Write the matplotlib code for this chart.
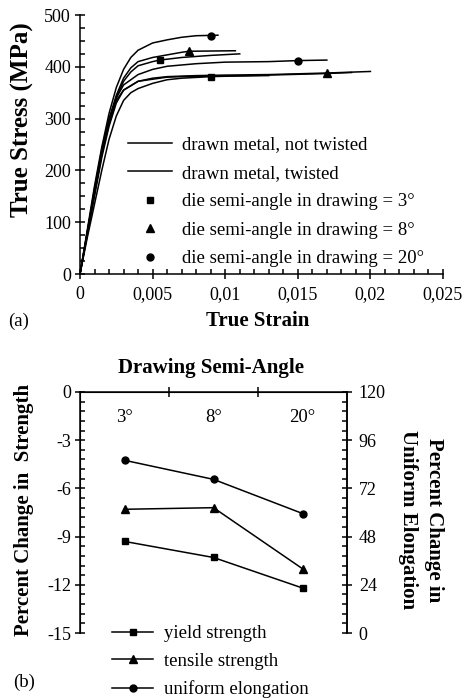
import numpy as np
import matplotlib
matplotlib.use('Agg')
import matplotlib.pyplot as plt
from matplotlib.ticker import MultipleLocator, FixedLocator, FuncFormatter
from matplotlib.lines import Line2D

plt.rcParams['font.family'] = ['Liberation Serif', 'DejaVu Serif']
plt.rcParams['axes.unicode_minus'] = False

# (a) true stress-strain curves
c1_strain = [0, 0.0005, 0.001, 0.0015, 0.002, 0.0025, 0.003, 0.0035, 0.004, 0.005, 0.006, 0.007, 0.008, 0.0095]
c1_stress = [0, 85, 170, 245, 310, 360, 395, 418, 432, 446, 452, 457, 460, 461]
c2_strain = [0, 0.0005, 0.001, 0.0015, 0.002, 0.0025, 0.003, 0.0035, 0.004, 0.005, 0.006, 0.007, 0.0075, 0.0107]
c2_stress = [0, 80, 165, 240, 300, 345, 378, 398, 410, 418, 423, 428, 430, 431]
c3_strain = [0, 0.0005, 0.001, 0.0015, 0.002, 0.0025, 0.003, 0.0035, 0.004, 0.005, 0.0055, 0.007, 0.009, 0.011]
c3_stress = [0, 80, 160, 235, 295, 340, 372, 390, 402, 410, 413, 418, 422, 425]
c4_strain = [0, 0.0005, 0.001, 0.0015, 0.002, 0.0025, 0.003, 0.004, 0.005, 0.006, 0.008, 0.01, 0.013, 0.015, 0.017]
c4_stress = [0, 80, 160, 235, 295, 340, 365, 385, 395, 401, 406, 409, 410, 412, 413]
c5_strain = [0, 0.0005, 0.001, 0.0015, 0.002, 0.0025, 0.003, 0.004, 0.005, 0.006, 0.007, 0.009, 0.013]
c5_stress = [0, 78, 155, 230, 290, 335, 355, 372, 376, 380, 381, 382, 383]
c6_strain = [0, 0.0005, 0.001, 0.0015, 0.002, 0.0025, 0.003, 0.0035, 0.004, 0.005, 0.006, 0.007, 0.009, 0.013, 0.017, 0.0187]
c6_stress = [0, 70, 135, 200, 260, 305, 335, 350, 358, 368, 375, 378, 381, 384, 387, 389]
c7_strain = [0, 0.0005, 0.001, 0.0015, 0.002, 0.0025, 0.003, 0.004, 0.005, 0.006, 0.008, 0.01, 0.013, 0.017, 0.02]
c7_stress = [0, 75, 150, 225, 285, 330, 355, 372, 378, 381, 383, 384, 385, 388, 391]

sq_strain = [0.0055, 0.009]
sq_stress = [413, 381]
tri_strain = [0.0075, 0.017]
tri_stress = [430, 388]
circ_strain = [0.009, 0.015]
circ_stress = [460, 412]

# (b) percent change vs drawing semi-angle
angles = ['3°', '8°', '20°']
yield_strength = [-9.3, -10.3, -12.2]
tensile_strength = [-7.3, -7.2, -11.0]
uniform_elongation = [86, 76.5, 59.5]

W, H = 463, 699
fig = plt.figure(figsize=(W / 100, H / 100), dpi=100)

def fx(px):
    return px / W

def fy(py):
    return 1 - py / H

lw_ax = 1.1
fs = 13
fs_leg = 13.5
fs_lab = 15

# ---------- (a) ----------
ax1 = fig.add_axes([fx(80), fy(274), fx(443) - fx(80), fy(15) - fy(274)])
curves = [(c1_strain, c1_stress), (c2_strain, c2_stress), (c3_strain, c3_stress),
          (c4_strain, c4_stress), (c5_strain, c5_stress), (c6_strain, c6_stress),
          (c7_strain, c7_stress)]
for s, t in curves:
    ax1.plot(s, t, color='black', lw=1.1)
ax1.plot(sq_strain, sq_stress, 's', color='black', ms=5, ls='none')
ax1.plot(tri_strain, tri_stress, '^', color='black', ms=5.5, ls='none')
ax1.plot(circ_strain, circ_stress, 'o', color='black', ms=5, ls='none')

ax1.set_xlim(0, 0.025)
ax1.set_ylim(0, 500)
ax1.spines['top'].set_visible(False)
ax1.spines['right'].set_visible(False)
for sp in ['left', 'bottom']:
    ax1.spines[sp].set_linewidth(lw_ax)
ax1.xaxis.set_major_locator(MultipleLocator(0.005))
ax1.xaxis.set_minor_locator(MultipleLocator(0.001))
ax1.yaxis.set_major_locator(MultipleLocator(100))
ax1.yaxis.set_minor_locator(MultipleLocator(25))
ax1.xaxis.set_major_formatter(FuncFormatter(lambda v, p: f"{v:g}".replace('.', ',')))
ax1.tick_params(which='major', direction='inout', length=7, width=lw_ax, labelsize=fs, pad=3)
ax1.tick_params(axis='x', which='major', pad=5)
ax1.tick_params(which='minor', direction='in', length=3.6, width=lw_ax)

handles_a = [Line2D([], [], color='black', lw=1.1),
             Line2D([], [], color='black', lw=1.1),
             Line2D([], [], marker='s', color='black', ms=5, ls='none'),
             Line2D([], [], marker='^', color='black', ms=5.5, ls='none'),
             Line2D([], [], marker='o', color='black', ms=5, ls='none')]
labels_a = ['drawn metal, not twisted', 'drawn metal, twisted',
            'die semi-angle in drawing = 3°', 'die semi-angle in drawing = 8°',
            'die semi-angle in drawing = 20°']
fig.legend(handles_a, labels_a, loc='upper left', bbox_to_anchor=(fx(128), fy(136)),
           frameon=False, fontsize=fs_leg, borderpad=0, borderaxespad=0,
           handlelength=2.35, handletextpad=0.55, labelspacing=0.61, numpoints=1)

fig.text(fx(22), fy(120), 'True Stress (MPa)', rotation=90, ha='center', va='center',
         fontsize=18, fontweight='bold')
fig.text(fx(258), fy(321), 'True Strain', ha='center', va='center',
         fontsize=fs_lab, fontweight='bold')
fig.text(fx(8), fy(321), '(a)', ha='left', va='center', fontsize=fs_leg)

# ---------- (b) ----------
ax2 = fig.add_axes([fx(80), fy(633), fx(347) - fx(80), fy(392) - fy(633)])
xpos = np.arange(len(angles)) + 0.5
ax2.plot(xpos, yield_strength, '-s', color='black', lw=1.1, ms=5)
ax2.plot(xpos, tensile_strength, '-^', color='black', lw=1.1, ms=5.5)
ax2.set_xlim(0, 3)
ax2.set_ylim(-15, 0)
ax2.spines['bottom'].set_visible(False)
for sp in ['left', 'top', 'right']:
    ax2.spines[sp].set_linewidth(lw_ax)
ax2.xaxis.set_ticks_position('top')
ax2.xaxis.set_major_locator(FixedLocator([1, 2]))
ax2.tick_params(axis='x', which='major', direction='inout', length=7, width=lw_ax,
                labeltop=False, labelbottom=False)
ax2.yaxis.set_major_locator(MultipleLocator(3))
ax2.yaxis.set_minor_locator(MultipleLocator(0.6))
ax2.tick_params(axis='y', which='major', direction='inout', length=7, width=lw_ax,
                labelsize=fs, pad=3)
ax2.tick_params(axis='y', which='minor', direction='in', length=3.6, width=lw_ax)
for xp, a in zip(xpos, angles):
    ax2.text(xp, -1.6, a, ha='center', va='center', fontsize=fs_leg)

ax3 = ax2.twinx()
ax3.plot(xpos, uniform_elongation, '-o', color='black', lw=1.1, ms=5)
ax3.set_ylim(0, 120)
ax3.spines['bottom'].set_visible(False)
ax3.spines['right'].set_linewidth(lw_ax)
ax3.yaxis.set_major_locator(MultipleLocator(24))
ax3.yaxis.set_minor_locator(MultipleLocator(4.8))
ax3.tick_params(axis='y', which='major', direction='inout', length=7, width=lw_ax,
                labelsize=fs, pad=5)
ax3.tick_params(axis='y', which='minor', direction='in', length=3.6, width=lw_ax)

handles_b = [Line2D([], [], marker='s', color='black', lw=1.1, ms=5),
             Line2D([], [], marker='^', color='black', lw=1.1, ms=5.5),
             Line2D([], [], marker='o', color='black', lw=1.1, ms=5)]
labels_b = ['yield strength', 'tensile strength', 'uniform elongation']
fig.legend(handles_b, labels_b, loc='upper left', bbox_to_anchor=(fx(112), fy(625)),
           frameon=False, fontsize=fs_leg, borderpad=0, borderaxespad=0,
           handlelength=2.2, handletextpad=0.55, labelspacing=0.57, numpoints=1)

fig.text(fx(211), fy(368), 'Drawing Semi-Angle', ha='center', va='center',
         fontsize=fs_lab, fontweight='bold')
fig.text(fx(24), fy(510), 'Percent Change in  Strength', rotation=90, ha='center',
         va='center', fontsize=fs_lab, fontweight='bold')
fig.text(fx(421), fy(520), 'Percent Change in\nUniform Elongation', rotation=270,
         ha='center', va='center', multialignment='center', fontsize=fs_lab,
         fontweight='bold', linespacing=1.45)
fig.text(fx(13), fy(682), '(b)', ha='left', va='center', fontsize=fs_leg)

fig.savefig('out.png', dpi=100)
